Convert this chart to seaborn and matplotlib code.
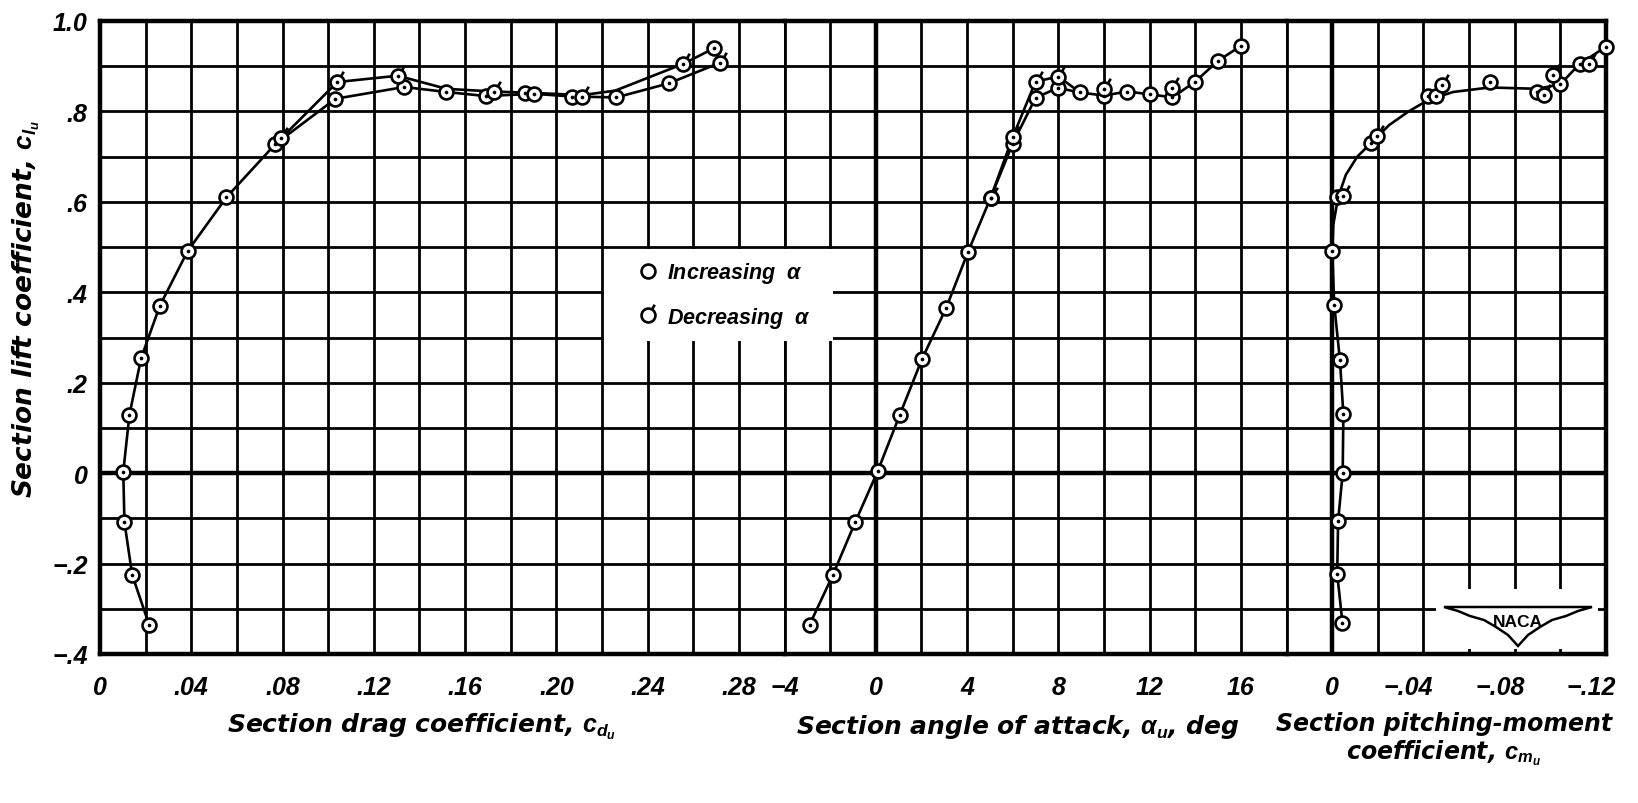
import matplotlib
matplotlib.use("Agg")
import matplotlib.pyplot as plt
import matplotlib.transforms as mtransforms
from matplotlib.path import Path
from matplotlib.lines import Line2D
from matplotlib.patches import Rectangle, Polygon
from matplotlib.ticker import FixedLocator, MultipleLocator
import seaborn as sns

# ---- panel 1: section drag coefficient ----
drag_inc_cd = [0.0215, 0.0141, 0.0107, 0.0102, 0.0129, 0.0180, 0.0262, 0.0384, 0.0554, 0.0769,
               0.1032, 0.1333, 0.1518, 0.1690, 0.1864, 0.1900, 0.2070, 0.2263, 0.2492, 0.2692]
drag_inc_cl = [-0.335, -0.225, -0.108, 0.003, 0.129, 0.254, 0.370, 0.491, 0.610, 0.728,
               0.828, 0.854, 0.843, 0.834, 0.840, 0.839, 0.833, 0.831, 0.862, 0.940]
drag_dec_cd = [0.0795, 0.1040, 0.1305, 0.1725, 0.2113, 0.2555, 0.2719]
drag_dec_cl = [0.741, 0.865, 0.879, 0.844, 0.833, 0.905, 0.908]
# faired curves (lower = increasing, upper = decreasing)
drag_low_cd = [0.0215, 0.0141, 0.0107, 0.0102, 0.0129, 0.0180, 0.0262, 0.0384, 0.0554, 0.0769,
               0.1032, 0.1333, 0.1518, 0.1690, 0.1900, 0.2070, 0.2263, 0.2492, 0.2719, 0.2692]
drag_low_cl = [-0.335, -0.225, -0.108, 0.003, 0.129, 0.254, 0.370, 0.491, 0.610, 0.728,
               0.828, 0.854, 0.843, 0.834, 0.839, 0.833, 0.831, 0.862, 0.908, 0.940]
drag_up_cd = [0.0769, 0.0795, 0.1040, 0.1305, 0.1518, 0.1725, 0.1900, 0.2113, 0.2258, 0.2555, 0.2692]
drag_up_cl = [0.728, 0.741, 0.865, 0.879, 0.850, 0.844, 0.841, 0.836, 0.846, 0.905, 0.940]

# ---- panel 2: section angle of attack ----
alpha_inc = [-2.9, -1.88, -0.9, 0.08, 1.05, 2.03, 3.08, 4.03, 5.03, 6.0,
             7.0, 7.97, 8.95, 10.0, 11.0, 12.0, 13.0, 14.0, 15.0, 16.0]
alpha_inc_cl = [-0.335, -0.225, -0.108, 0.004, 0.129, 0.253, 0.365, 0.488, 0.609, 0.729,
                0.830, 0.852, 0.842, 0.835, 0.844, 0.838, 0.831, 0.866, 0.912, 0.945]
alpha_dec = [5.03, 6.0, 7.0, 8.0, 10.0, 13.0]
alpha_dec_cl = [0.609, 0.743, 0.866, 0.877, 0.849, 0.851]
alpha_up = [5.03, 6.0, 7.0, 8.0, 8.95]
alpha_up_cl = [0.609, 0.743, 0.866, 0.877, 0.842]

# ---- panel 3: section pitching-moment coefficient ----
cm_inc = [-0.0045, -0.0022, -0.0026, -0.0046, -0.0049, -0.0034, -0.0009, 0.0, -0.0019,
          -0.0170, -0.0420, -0.0454, -0.0690, -0.0899, -0.0999, -0.1084, -0.1200]
cm_inc_cl = [-0.331, -0.223, -0.105, 0.000, 0.131, 0.250, 0.372, 0.491, 0.611,
             0.730, 0.835, 0.835, 0.866, 0.844, 0.860, 0.905, 0.943]
cm_dec = [-0.0046, -0.0196, -0.0482, -0.0927, -0.0968, -0.1126]
cm_dec_cl = [0.612, 0.745, 0.859, 0.837, 0.880, 0.905]
cm_curve = [-0.0045, -0.0022, -0.0026, -0.0046, -0.0049, -0.0034, -0.0009, 0.0, -0.0005, -0.0026,
            -0.006, -0.011, -0.017, -0.025, -0.0335, -0.042, -0.053, -0.069, -0.090, -0.100,
            -0.1084, -0.120]
cm_curve_cl = [-0.331, -0.223, -0.105, 0.0, 0.131, 0.25, 0.372, 0.491, 0.55, 0.61,
               0.66, 0.70, 0.73, 0.77, 0.80, 0.825, 0.843, 0.853, 0.85, 0.86,
               0.905, 0.943]

# tick labels
cl_ticks = [-0.4, -0.2, 0.0, 0.2, 0.4, 0.6, 0.8, 1.0]
cl_labels = ['\u2212.4', '\u2212.2', '0', '.2', '.4', '.6', '.8', '1.0']
cd_ticks = [0, 0.04, 0.08, 0.12, 0.16, 0.20, 0.24, 0.28]
cd_labels = ['0', '.04', '.08', '.12', '.16', '.20', '.24', '.28']
alpha_ticks = [-4, 0, 4, 8, 12, 16]
alpha_labels = ['\u22124', '0', '4', '8', '12', '16']
cm_ticks = [0, -0.04, -0.08, -0.12]
cm_labels = ['0', '\u2212.04', '\u2212.08', '\u2212.12']

sns.set_style("white")
plt.rcParams['font.family'] = ['Liberation Sans', 'DejaVu Sans']
plt.rcParams['font.weight'] = 'bold'
plt.rcParams['font.style'] = 'italic'
plt.rcParams['mathtext.fontset'] = 'custom'
plt.rcParams['mathtext.it'] = 'Liberation Sans:italic:bold'
plt.rcParams['mathtext.rm'] = 'Liberation Sans:italic:bold'
plt.rcParams['mathtext.bf'] = 'Liberation Sans:italic:bold'
for key in ('text.color', 'axes.labelcolor', 'xtick.color', 'ytick.color'):
    plt.rcParams[key] = 'black'

W, H = 1638, 804
fig = plt.figure(figsize=(W / 100, H / 100), dpi=100)


def fx(px):
    return px / W


def fy(py):
    return 1 - py / H


left, right, bottom, top = 100, 1606, 655, 22
cell = (right - left) / 33
ax_d = fig.add_axes([fx(left), fy(bottom), 15 * cell / W, (bottom - top) / H])
ax_a = fig.add_axes([fx(left + 15 * cell), fy(bottom), 11 * cell / W, (bottom - top) / H])
ax_m = fig.add_axes([fx(left + 26 * cell), fy(bottom), 7 * cell / W, (bottom - top) / H])

GRID_LW = 2.0
HEAVY_LW = 3.2
LINE_LW = 1.9


def setup(ax, xlim, ticks, labels, step):
    ax.set_xlim(*xlim)
    ax.set_ylim(-0.4, 1.0)
    ax.xaxis.set_major_locator(FixedLocator(ticks))
    ax.set_xticklabels(labels)
    ax.xaxis.set_minor_locator(MultipleLocator(step))
    ax.set_yticks(cl_ticks, cl_labels)
    ax.yaxis.set_minor_locator(MultipleLocator(0.1))
    ax.grid(which='both', color='black', lw=GRID_LW)
    ax.set_axisbelow(True)
    ax.tick_params(which='both', length=0, labelsize=18, colors='black')
    ax.tick_params(axis='x', pad=15)
    ax.tick_params(axis='y', pad=9)
    ax.axhline(0, color='black', lw=HEAVY_LW, zorder=1)
    for s in ax.spines.values():
        s.set_color('black')
        s.set_linewidth(HEAVY_LW)
        s.set_visible(True)


setup(ax_d, (0, 0.30), cd_ticks, cd_labels, 0.02)
setup(ax_a, (-4, 18), alpha_ticks, alpha_labels, 2)
setup(ax_m, (0.02, -0.12), cm_ticks, cm_labels, 0.02)
ax_a.tick_params(labelleft=False)
ax_m.tick_params(labelleft=False)
ax_a.axvline(0, color='black', lw=HEAVY_LW, zorder=1)
ax_m.axvline(0, color='black', lw=HEAVY_LW, zorder=1)

# panels share one continuous grid
ax_d.spines['right'].set_linewidth(GRID_LW)
ax_a.spines['left'].set_visible(False)
ax_a.spines['right'].set_linewidth(GRID_LW)
ax_m.spines['left'].set_visible(False)

# pitching-moment labels sit a little left of their lines
shift = mtransforms.ScaledTranslation(-0.15, 0, fig.dpi_scale_trans)
for lbl in ax_m.get_xticklabels()[1:]:
    lbl.set_transform(lbl.get_transform() + shift)

FLAG = Path.make_compound_path(
    Path.unit_circle(),
    Path([(0.5, 0.87), (0.9, 1.55)], [Path.MOVETO, Path.LINETO]))
CIRCLE_MS = 10.0
FLAG_MS = CIRCLE_MS * 1.55


def curve(ax, x, y):
    sns.lineplot(x=x, y=y, sort=False, estimator=None, color='black',
                 lw=LINE_LW, ax=ax, zorder=2)


def points(ax, x, y, flagged=False):
    if flagged:
        sns.scatterplot(x=x, y=y, marker=FLAG, s=FLAG_MS ** 2, facecolor='white',
                        edgecolor='black', linewidth=1.9, ax=ax, zorder=3, clip_on=False)
    else:
        sns.scatterplot(x=x, y=y, marker='o', s=CIRCLE_MS ** 2, facecolor='white',
                        edgecolor='black', linewidth=1.9, ax=ax, zorder=3, clip_on=False)
    sns.scatterplot(x=x, y=y, marker='o', s=7, color='black', edgecolor='black',
                    linewidth=0, ax=ax, zorder=4, clip_on=False)


curve(ax_d, drag_low_cd, drag_low_cl)
curve(ax_d, drag_up_cd, drag_up_cl)
points(ax_d, drag_inc_cd, drag_inc_cl)
points(ax_d, drag_dec_cd, drag_dec_cl, flagged=True)

curve(ax_a, alpha_inc, alpha_inc_cl)
curve(ax_a, alpha_up, alpha_up_cl)
points(ax_a, alpha_inc, alpha_inc_cl)
points(ax_a, alpha_dec, alpha_dec_cl, flagged=True)

curve(ax_m, cm_curve, cm_curve_cl)
points(ax_m, cm_inc, cm_inc_cl)
points(ax_m, cm_dec, cm_dec_cl, flagged=True)

for ax in (ax_d, ax_a, ax_m):
    ax.set_xlabel('')
    ax.set_ylabel('')

# legend on a white patch that breaks the grid
fig.add_artist(Rectangle((fx(604), fy(342)), (833 - 604) / W, (342 - 250) / H,
                         transform=fig.transFigure, facecolor='white',
                         edgecolor='none', zorder=2))
inc_handle = Line2D([], [], ls='none', marker='o', ms=CIRCLE_MS, mfc='white',
                    mec='black', mew=1.9)
dec_handle = Line2D([], [], ls='none', marker=FLAG, ms=FLAG_MS, mfc='white',
                    mec='black', mew=1.9)
leg = fig.legend([inc_handle, dec_handle],
                 [r'Increasing  $\alpha$', r'Decreasing  $\alpha$'],
                 loc='center', bbox_to_anchor=(fx(724), fy(296)), frameon=False,
                 fontsize=15.5, handletextpad=0.4, labelspacing=0.9, handlelength=1.0)
leg.set_zorder(3)

# NACA emblem
fig.add_artist(Rectangle((fx(1436), fy(650)), (1598 - 1436) / W, (650 - 590) / H,
                         transform=fig.transFigure, facecolor='white',
                         edgecolor='none', zorder=2))
wing = [(1444, 608), (1592, 608), (1578, 612), (1566, 617), (1552, 621), (1540, 628),
        (1528, 636), (1518, 647), (1508, 636), (1496, 628), (1484, 621), (1470, 617),
        (1458, 612)]
fig.add_artist(Polygon([(fx(px), fy(py)) for px, py in wing], closed=True,
                       transform=fig.transFigure, facecolor='white',
                       edgecolor='black', lw=1.8, zorder=3))
fig.text(fx(1518), fy(623), 'NACA', fontsize=12.5, style='normal', ha='center',
         va='center', zorder=4)

# axis titles (wider lettering)
TITLE_FONT = ['DejaVu Sans']
fig.text(fx(26), fy(309), r'Section lift coefficient, $c_{l_u}$', rotation=90,
         ha='center', va='center', fontsize=19, family=TITLE_FONT)
fig.text(fx(422), fy(727), r'Section drag coefficient, $c_{d_u}$',
         ha='center', va='center', fontsize=18, family=TITLE_FONT)
fig.text(fx(1018), fy(727), r'Section angle of attack, $\alpha_u$, deg',
         ha='center', va='center', fontsize=18, family=TITLE_FONT)
fig.text(fx(1444), fy(740), 'Section pitching-moment\ncoefficient, $c_{m_u}$',
         ha='center', va='center', fontsize=17, linespacing=1.15,
         multialignment='center', family=TITLE_FONT)

fig.savefig('out.png', dpi=100, facecolor='white')
